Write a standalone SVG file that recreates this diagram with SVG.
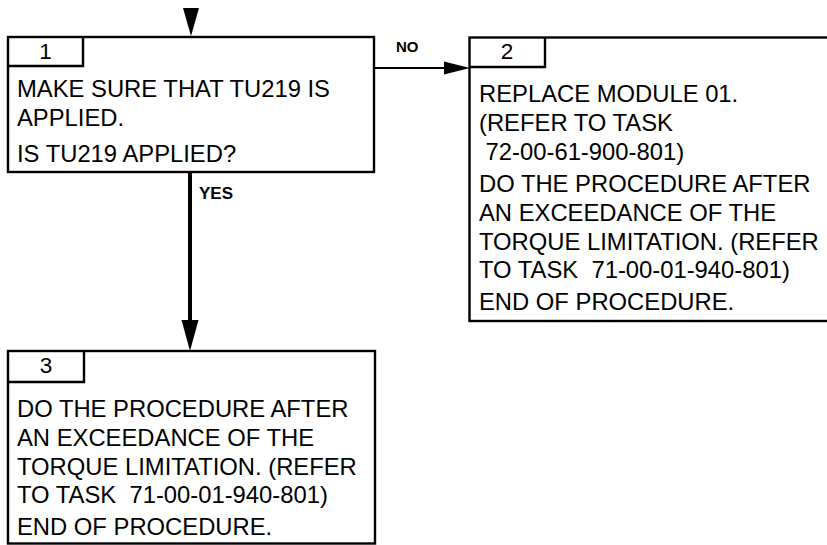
<svg xmlns="http://www.w3.org/2000/svg" width="827" height="545" viewBox="0 0 827 545">
<defs>
<style>
.box{fill:#fff;stroke:#000;stroke-width:2.4}
.tab{fill:none;stroke:#000;stroke-width:2.4}
.t{font-family:"Liberation Sans",Arial,sans-serif;font-size:23.8px;fill:#000}
.n{font-family:"Liberation Sans",Arial,sans-serif;font-size:22.5px;fill:#000;text-anchor:middle}
.lbl{font-family:"Liberation Sans",Arial,sans-serif;font-weight:bold;fill:#000}
.ln{stroke:#000;fill:none}
</style>
</defs>
<g id="connectors">
<polygon points="183,8 199,8 191,36" fill="#000"/>
<line class="ln" x1="374" y1="68" x2="446" y2="68" stroke-width="2"/>
<polygon points="444,61.5 470,68 444,74.5" fill="#000"/>
<text class="lbl" x="396" y="52" font-size="15">NO</text>
<line class="ln" x1="190" y1="172" x2="190" y2="322" stroke-width="4"/>
<polygon points="181.5,320 198.5,320 190,351" fill="#000"/>
<text class="lbl" x="199" y="199" font-size="17">YES</text>
</g>
<g id="node1">
<rect class="box" x="8" y="37" width="366" height="135"/>
<polyline class="tab" points="8,66 83,66 83,37"/>
<text class="n" x="45.5" y="58.5">1</text>
<text class="t" x="17" y="97">MAKE SURE THAT TU219 IS</text>
<text class="t" x="17" y="126">APPLIED.</text>
<text class="t" x="17" y="161.5">IS TU219 APPLIED?</text>
</g>
<g id="node2">
<rect class="box" x="469.5" y="37.5" width="380" height="283.5"/>
<polyline class="tab" points="469.5,67 545,67 545,37.5"/>
<text class="n" x="507" y="58.5">2</text>
<text class="t" x="479" y="101.5">REPLACE MODULE 01.</text>
<text class="t" x="479" y="130.5">(REFER TO TASK</text>
<text class="t" x="479" y="160" xml:space="preserve"> 72-00-61-900-801)</text>
<text class="t" x="479" y="191.5">DO THE PROCEDURE AFTER</text>
<text class="t" x="479" y="220.5">AN EXCEEDANCE OF THE</text>
<text class="t" x="479" y="250">TORQUE LIMITATION. (REFER</text>
<text class="t" x="479" y="278" xml:space="preserve">TO TASK  71-00-01-940-801)</text>
<text class="t" x="479" y="310">END OF PROCEDURE.</text>
</g>
<g id="node3">
<rect class="box" x="8" y="351" width="367" height="192.5"/>
<polyline class="tab" points="8,382 84,382 84,351"/>
<text class="n" x="46" y="372.5">3</text>
<text class="t" x="17" y="416.5">DO THE PROCEDURE AFTER</text>
<text class="t" x="17" y="445.5">AN EXCEEDANCE OF THE</text>
<text class="t" x="17" y="475">TORQUE LIMITATION. (REFER</text>
<text class="t" x="17" y="503" xml:space="preserve">TO TASK  71-00-01-940-801)</text>
<text class="t" x="17" y="535">END OF PROCEDURE.</text>
</g>
</svg>
